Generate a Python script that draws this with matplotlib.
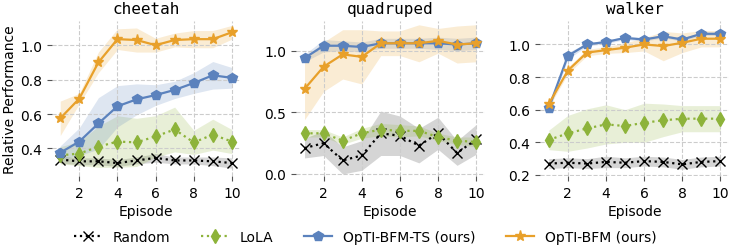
import numpy as np
import matplotlib
matplotlib.use("Agg")
import matplotlib.pyplot as plt

# %% Data

episodes = np.arange(1, 11)
tasks = ["cheetah", "quadruped", "walker"]

# cheetah
ch_random = [0.335, 0.325, 0.325, 0.315, 0.33, 0.345, 0.33, 0.33, 0.325, 0.315]
ch_random_sd = [0.02, 0.02, 0.02, 0.02, 0.02, 0.025, 0.02, 0.02, 0.025, 0.03]
ch_lola = [0.36, 0.37, 0.41, 0.44, 0.435, 0.47, 0.51, 0.435, 0.48, 0.44]
ch_lola_sd = [0.05, 0.07, 0.12, 0.15, 0.14, 0.12, 0.13, 0.07, 0.09, 0.07]
ch_ts = [0.375, 0.44, 0.545, 0.645, 0.685, 0.71, 0.74, 0.78, 0.825, 0.81]
ch_ts_sd = [0.04, 0.08, 0.15, 0.12, 0.09, 0.06, 0.05, 0.06, 0.08, 0.06]
ch_bfm = [0.575, 0.69, 0.90, 1.035, 1.03, 1.0, 1.03, 1.035, 1.035, 1.075]
ch_bfm_sd = [0.1, 0.03, 0.06, 0.06, 0.07, 0.04, 0.04, 0.05, 0.05, 0.04]

# quadruped
qu_random = [0.21, 0.25, 0.11, 0.15, 0.33, 0.31, 0.23, 0.33, 0.17, 0.28]
qu_random_sd = [0.08, 0.1, 0.11, 0.12, 0.18, 0.16, 0.14, 0.13, 0.1, 0.12]
qu_lola = [0.33, 0.33, 0.27, 0.33, 0.36, 0.35, 0.35, 0.30, 0.27, 0.26]
qu_lola_sd = [0.03, 0.03, 0.03, 0.04, 0.05, 0.05, 0.04, 0.03, 0.03, 0.04]
qu_ts = [0.94, 1.04, 1.04, 1.03, 1.06, 1.06, 1.06, 1.06, 1.05, 1.06]
qu_ts_sd = [0.03, 0.05, 0.04, 0.04, 0.04, 0.04, 0.04, 0.05, 0.05, 0.05]
qu_bfm = [0.69, 0.87, 0.97, 0.95, 1.06, 1.06, 1.06, 1.08, 1.05, 1.06]
qu_bfm_sd = [0.25, 0.2, 0.2, 0.22, 0.1, 0.1, 0.15, 0.1, 0.15, 0.15]

# walker
wa_random = [0.27, 0.275, 0.27, 0.28, 0.275, 0.285, 0.28, 0.265, 0.28, 0.285]
wa_random_sd = [0.03, 0.03, 0.03, 0.035, 0.03, 0.03, 0.03, 0.03, 0.03, 0.03]
wa_lola = [0.415, 0.455, 0.485, 0.51, 0.50, 0.52, 0.535, 0.545, 0.545, 0.545]
wa_lola_sd = [0.06, 0.11, 0.12, 0.12, 0.1, 0.12, 0.1, 0.08, 0.08, 0.08]
wa_ts = [0.61, 0.93, 1.0, 1.015, 1.04, 1.03, 1.05, 1.03, 1.065, 1.065]
wa_ts_sd = [0.02, 0.02, 0.01, 0.01, 0.01, 0.01, 0.01, 0.01, 0.01, 0.01]
wa_bfm = [0.635, 0.84, 0.95, 0.965, 0.98, 1.0, 0.99, 1.01, 1.035, 1.035]
wa_bfm_sd = [0.02, 0.02, 0.02, 0.02, 0.03, 0.04, 0.09, 0.06, 0.05, 0.05]

ylims = [(0.24, 1.14), (-0.016, 1.24), (0.194, 1.143)]
yticks = [[0.4, 0.6, 0.8, 1.0], [0.0, 0.5, 1.0], [0.2, 0.4, 0.6, 0.8, 1.0]]

data = {
    "cheetah": [(ch_random, ch_random_sd), (ch_lola, ch_lola_sd), (ch_ts, ch_ts_sd), (ch_bfm, ch_bfm_sd)],
    "quadruped": [(qu_random, qu_random_sd), (qu_lola, qu_lola_sd), (qu_ts, qu_ts_sd), (qu_bfm, qu_bfm_sd)],
    "walker": [(wa_random, wa_random_sd), (wa_lola, wa_lola_sd), (wa_ts, wa_ts_sd), (wa_bfm, wa_bfm_sd)],
}

labels = ["Random", "LoLA", "OpTI-BFM-TS (ours)", "OpTI-BFM (ours)"]
colors = ["black", "#8DB33A", "#5B82BD", "#E8A02A"]
fills = ["#888888", "#8DB33A", "#5B82BD", "#E8A02A"]
alphas = [0.35, 0.2, 0.2, 0.2]
styles = [":", ":", "-", "-"]
markers = ["x", "d", "p", "*"]
msizes = [7, 7, 7, 8]

# %% Plotting

fig, axes = plt.subplots(1, 3, figsize=(7.3, 2.51), dpi=100)
plt.subplots_adjust(left=0.0708, right=0.9986, top=0.912, bottom=0.295, wspace=0.294)

handles = []
for i, ax in enumerate(axes):
    task = tasks[i]
    for j, (mean, sd) in enumerate(data[task]):
        mean = np.array(mean)
        sd = np.array(sd)
        ax.fill_between(episodes, mean - sd, mean + sd, color=fills[j],
                        alpha=alphas[j], linewidth=0)
        h, = ax.plot(episodes, mean, linestyle=styles[j], color=colors[j],
                     marker=markers[j], markersize=msizes[j], linewidth=1.6,
                     label=labels[j])
        if i == 0:
            handles.append(h)
    ax.set_title(task, fontfamily="DejaVu Sans Mono", fontsize=11.5)
    ax.set_xlim(0.55, 10.45)
    ax.set_ylim(*ylims[i])
    ax.set_xticks([2, 4, 6, 8, 10])
    ax.set_yticks(yticks[i])
    ax.grid(True, linestyle="--", color="#cccccc", linewidth=0.8)
    for s in ax.spines.values():
        s.set_visible(False)
    ax.tick_params(labelsize=10, length=3.5, color="#555555")
    ax.set_xlabel("Episode", fontsize=10, labelpad=3)

axes[0].set_ylabel("Relative Performance", fontsize=10, labelpad=2)

fig.legend(handles=handles, labels=labels, loc="lower center", ncol=4,
           frameon=False, fontsize=10, bbox_to_anchor=(0.5, -0.025),
           columnspacing=2.2)

plt.savefig("out.png", dpi=100)
